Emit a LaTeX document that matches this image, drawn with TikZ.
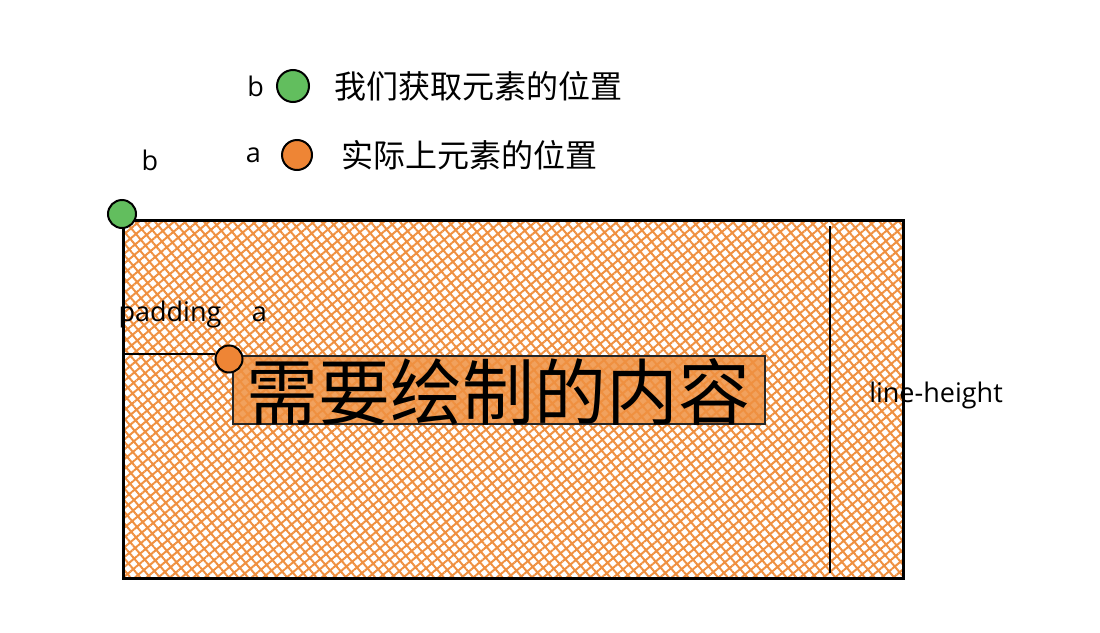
\documentclass[tikz,border=0pt]{standalone}
\usepackage{fontspec}
\setmainfont{Noto Sans CJK SC}
\newfontfamily\handfont{Open Sans}
\usetikzlibrary{positioning,patterns.meta}

\definecolor{hatchorange}{HTML}{EF9040}
\definecolor{dotorange}{HTML}{EE8535}
\definecolor{dotgreen}{HTML}{62BE5E}

\begin{document}
\begin{tikzpicture}[
  x=1pt, y=-1pt,
  hatched/.style={
    pattern={Hatch[angle=40,distance=7.5pt,line width=2pt]},
    pattern color=hatchorange
  },
  frame/.style={
    hatched,
    draw=black,
    line width=2.6pt,
    inner sep=0pt,
    anchor=north west
  },
  contentbox/.style={
    hatched,
    preaction={fill=hatchorange!85},
    draw=black!85,
    line width=1.6pt,
    inner xsep=0pt,
    inner ysep=1pt,
    text height=63pt,
    text depth=3pt,
    minimum width=532pt,
    anchor=north west,
    font=\fontsize{72}{72}\selectfont
  },
  dot/.style={circle, draw=black, line width=2pt, inner sep=0pt, minimum size=28pt},
  hand/.style={font=\handfont\fontsize{27}{27}\selectfont, inner sep=0pt},
  legend/.style={font=\fontsize{32}{32}\selectfont, inner sep=0pt}
]
\useasboundingbox (0,0) rectangle (1100,632);

% Légende
\node[dot, fill=dotgreen, minimum size=32pt] (bkey) at (293,86) {};
\node[hand, left=12pt of bkey] (bkeylabel) {b};
\node[legend, right=24pt of bkey] (btext) {我们获取元素的位置};
\node[dot, fill=dotorange, minimum size=30pt] (akey) at (297,155) {};
\node[hand, left=20pt of akey] (akeylabel) {a};
\node[legend, right=28pt of akey] (atext) {实际上元素的位置};

% Zone principale
\node[frame, minimum width=780pt, minimum height=358pt] (box) at (122,219) {};
\coordinate (splittop) at (830,226);
\coordinate (splitbot) at (830,573);
\draw[line width=2pt] (splittop) -- (splitbot);

% Contenu et padding
\node[contentbox] (content) at (232,355) {需要绘制的内容};
\node[dot, fill=dotorange, minimum size=27pt] (adot) at (229,359) {};
\coordinate (padstart) at (122,354);
\draw[line width=1.4pt] (padstart) -- (padstart -| adot.west);
\node[dot, fill=dotgreen] (bdot) at (122,214) {};

% Étiquettes
\node[hand] (blabel) at (150,160) {b};
\node[hand] (padlabel) at (170,314) {padding};
\node[hand, right=30pt of padlabel] (alabel) {a};
\node[hand] (lhlabel) at (936,395) {line-height};
\end{tikzpicture}
\end{document}
